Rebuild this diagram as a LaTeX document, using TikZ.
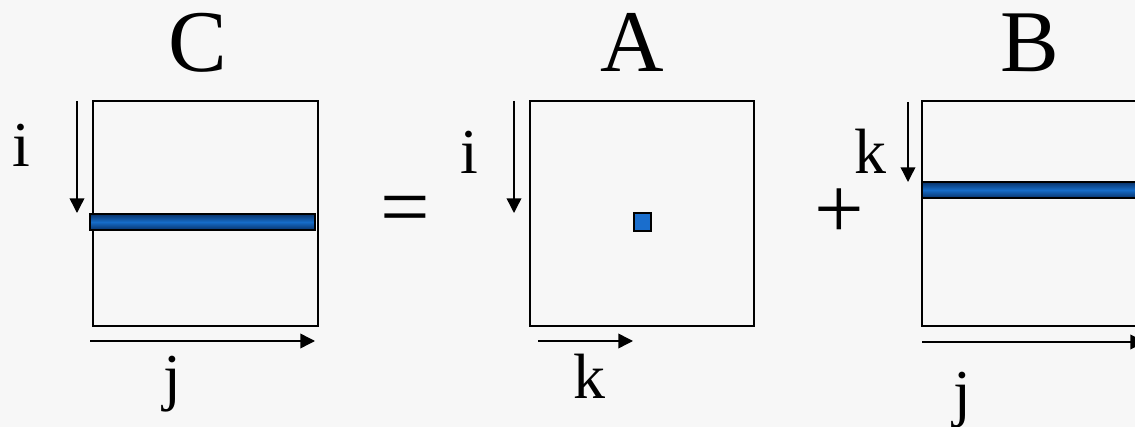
\documentclass[tikz,border=0pt]{standalone}
\usepackage{fontspec}
\setmainfont{Liberation Serif}
\usetikzlibrary{arrows.meta}
\definecolor{bg}{RGB}{247,247,247}
\definecolor{bardark}{RGB}{8,50,105}
\definecolor{barmid}{RGB}{22,108,200}
\definecolor{sqblue}{RGB}{26,110,205}
\tikzset{
  matbox/.style={draw=black, line width=1.6pt},
  rowbar/.style={draw=black, line width=1.3pt, top color=bardark, bottom color=bardark, middle color=barmid},
  elem/.style={draw=black, line width=1.3pt, fill=sqblue},
  idxarrow/.style={line width=1.1pt, -{Triangle[width=11pt,length=11pt]}},
  bigtxt/.style={anchor=base, inner sep=0pt, font=\fontsize{66}{66}\selectfont},
  smalltxt/.style={anchor=base, inner sep=0pt, font=\fontsize{48}{48}\selectfont}
}
\begin{document}
\begin{tikzpicture}[x={(0.75pt,0)}, y={(0,-0.75pt)}]
\useasboundingbox (0,0) rectangle (1135,427);
\fill[bg] (0,0) rectangle (1135,427);
\clip (0,0) rectangle (1135,427);
% titles
\node[bigtxt] (tC) at (198,72) {C};
\node[bigtxt] (tA) at (632,72) {A};
\node[bigtxt] (tB) at (1030,72) {B};
\node[bigtxt] (eq) at (405,237) {=};
\node[bigtxt] (plus) at (839,239) {+};
% matrix C
\draw[matbox] (93,101) rectangle (318,326);
\draw[rowbar] (90,214) rectangle (315,230);
\coordinate (ciS) at (77,101); \coordinate (ciE) at (77,213);
\draw[idxarrow] (ciS) -- (ciE);
\node[smalltxt] (ci) at (21,167) {i};
\coordinate (cjS) at (90,341); \coordinate (cjE) at (315,341);
\draw[idxarrow] (cjS) -- (cjE);
\node[smalltxt] (cj) at (172,398) {j};
% matrix A
\draw[matbox] (530,101) rectangle (754,326);
\draw[elem] (634,213) rectangle (651,231);
\coordinate (aiS) at (514,101); \coordinate (aiE) at (514,213);
\draw[idxarrow] (aiS) -- (aiE);
\node[smalltxt] (ai) at (469,174) {i};
\coordinate (akS) at (538,341); \coordinate (akE) at (633,341);
\draw[idxarrow] (akS) -- (akE);
\node[smalltxt] (ak) at (589,399) {k};
% matrix B
\draw[matbox] (922,101) rectangle (1150,326);
\draw[rowbar] (922,182) rectangle (1150,198);
\coordinate (bkS) at (908,102); \coordinate (bkE) at (908,182);
\draw[idxarrow] (bkS) -- (bkE);
\node[smalltxt] (bk) at (870,174) {k};
\coordinate (bjS) at (922,342); \coordinate (bjE) at (1145,342);
\draw[idxarrow] (bjS) -- (bjE);
\node[smalltxt] (bj) at (962,415) {j};
\end{tikzpicture}
\end{document}
